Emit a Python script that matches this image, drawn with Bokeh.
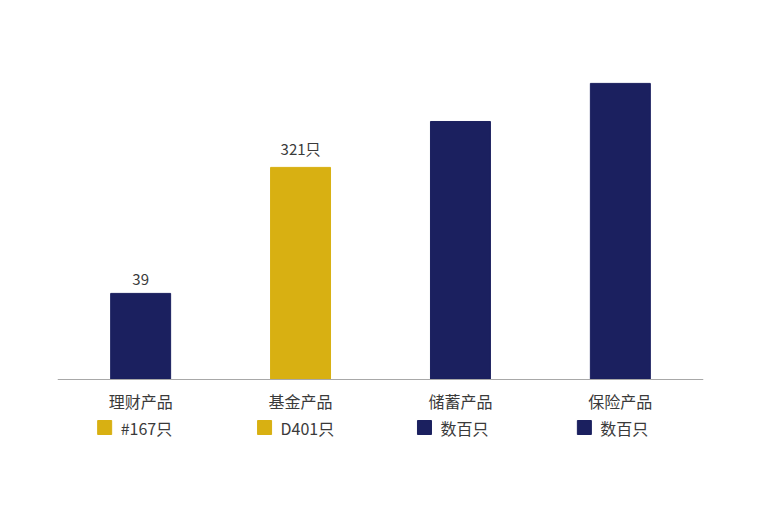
from bokeh.plotting import figure
from bokeh.models import ColumnDataSource, FactorRange, Range1d, Span
from bokeh.core.properties import value
from bokeh.transform import dodge
from bokeh.embed import file_html
from bokeh.resources import INLINE

categories = ["理财产品", "基金产品", "储蓄产品", "保险产品"]
# bar heights as drawn (the chart is not to scale)
heights = [28.7, 70.7, 86.0, 98.7]
value_labels = ["39", "321只", "", ""]
legend_labels = ["#167只", "D401只", "数百只", "数百只"]

navy = "#1B205F"
gold = "#D8B012"
bar_colors = [navy, gold, navy, navy]
legend_colors = [gold, gold, navy, navy]

font = value("Noto Sans CJK SC")

p = figure(x_range=FactorRange(*categories, range_padding=0.01),
           y_range=Range1d(-30.33, 106.33),
           width=752, height=496, output_backend="svg", toolbar_location=None,
           min_border_left=57, min_border_right=49, min_border_top=60, min_border_bottom=26)
p.outline_line_color = None
p.axis.visible = False
p.grid.visible = False

src = ColumnDataSource(dict(cat=categories, h=heights, col=bar_colors, lab=value_labels,
                            leg=legend_labels, lcol=legend_colors,
                            cy=[-7.0] * 4, ly=[-16.0] * 4))

p.vbar(x="cat", top="h", width=0.375, color="col", source=src)

p.add_layout(Span(location=0, dimension="width", line_color="#A8A8A8", line_width=1.2))

p.text(x="cat", y="h", text="lab", source=src, y_offset=-8, text_align="center",
       text_baseline="bottom", text_font=font, text_font_size="15px", text_color="#3a3a3a")
p.text(x="cat", y="cy", text="cat", source=src, text_align="center", text_baseline="middle",
       text_font=font, text_font_size="16px", text_color="#3a3a3a")
p.rect(x=dodge("cat", -0.225, range=p.x_range), y="ly", width=14, height=14,
       width_units="screen", height_units="screen", color="lcol", source=src)
p.text(x="cat", y="ly", text="leg", source=src, x_offset=-20, text_align="left",
       text_baseline="middle", text_font=font, text_font_size="16px", text_color="#3a3a3a")

open("out.html", "w").write(file_html(p, INLINE))
